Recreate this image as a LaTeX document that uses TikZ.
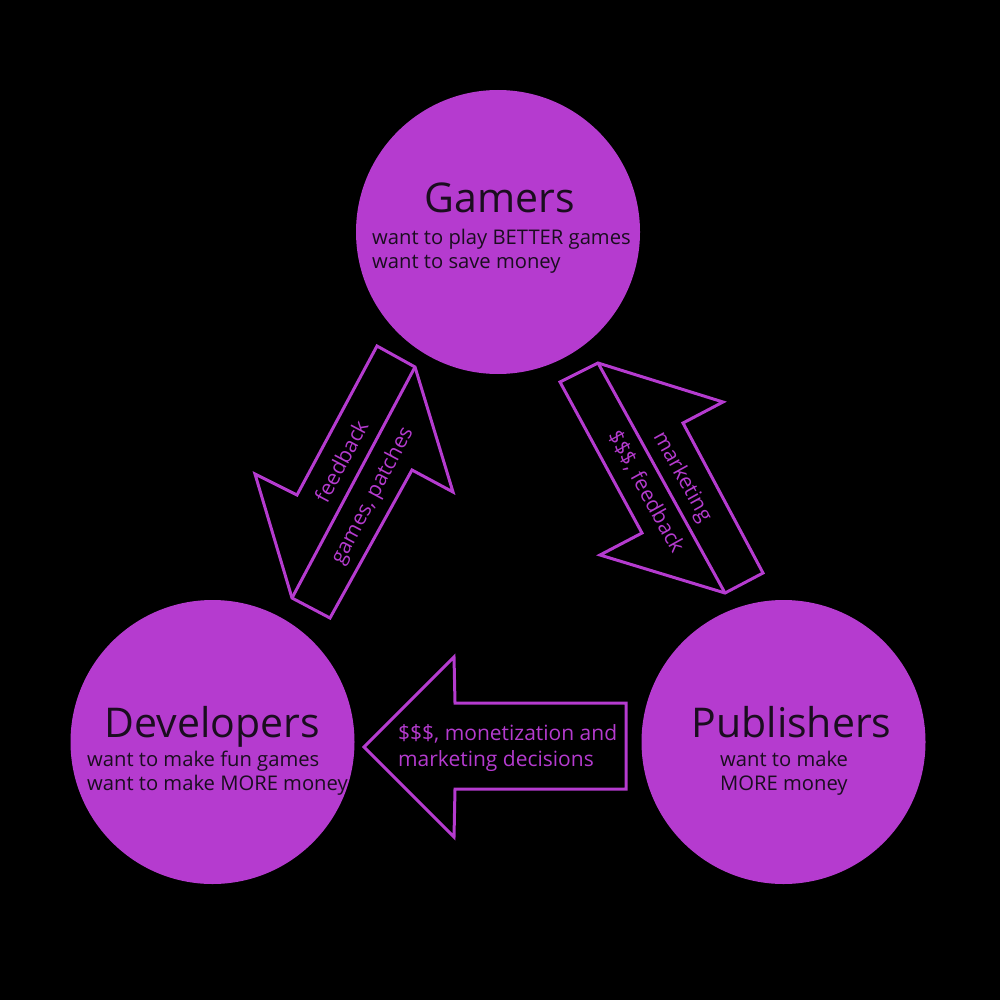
\documentclass[tikz,border=0pt]{standalone}
\usepackage{fontspec}
\setmainfont{Open Sans}
\definecolor{purp}{HTML}{B53BCF}
\definecolor{ink}{HTML}{1A0D1F}
\begin{document}
\begin{tikzpicture}[x=1pt,y=-1pt,
  circ/.style={circle, fill=purp, minimum size=284pt, inner sep=0pt},
  arrowshape/.style={draw=purp, line width=3pt, line join=miter},
  title/.style={text=ink, font=\fontsize{41}{44}\selectfont, anchor=base, inner sep=0pt},
  desc/.style={text=ink, font=\fontsize{20.2}{24}\selectfont, anchor=base west, inner sep=0pt},
  lbl/.style={text=purp, font=\fontsize{21}{24}\selectfont, inner sep=0pt}]
\fill[black] (0,0) rectangle (1000,1000);
\useasboundingbox (0,0) rectangle (1000,1000);
% circles
\node[circ] (gamers) at (498,232) {};
\node[circ] (devs) at (212.5,742) {};
\node[circ] (pubs) at (783.5,742) {};
% circle texts
\node[title] (gt) at (500,213) {Gamers};
\node[desc] (g1) at (372,244) {want to play BETTER games};
\node[desc] (g2) at (372,268) {want to save money};
\node[title] (dt) at (212.5,737) {Developers};
\node[desc] (d1) at (87,766) {want to make fun games};
\node[desc] (d2) at (87,790) {want to make MORE money};
\node[title] (pt) at (791.5,737) {Publishers};
\node[desc] (p1) at (720,766) {want to make};
\node[desc] (p2) at (720,790) {MORE money};
% left double arrow (Gamers <-> Developers)
\draw[arrowshape] (377,346) -- (415,367) -- (453,492) -- (412,470) -- (330,618)
  -- (292,598) -- (255,474) -- (297,495) -- cycle;
\draw[arrowshape] (292,598) -- (415,367);
\node[lbl, rotate=62] (fb1) at (341,461) {feedback};
\node[lbl, rotate=62] (gp) at (373,496) {games, patches};
% right double arrow (Gamers <-> Publishers)
\draw[arrowshape] (560,382) -- (598,363) -- (723,402) -- (683,423) -- (763,573)
  -- (725,593) -- (600,555) -- (642,533) -- cycle;
\draw[arrowshape] (598,363) -- (725,593);
\node[lbl, rotate=-61] (mk) at (682,477) {marketing};
\node[lbl, rotate=-61] (fb2) at (646,492) {\$\$\$, feedback};
% bottom arrow (Publishers -> Developers)
\draw[arrowshape] (364,747) -- (454,657) -- (455,703) -- (626,703) -- (626,789)
  -- (455,789) -- (454,837) -- cycle;
\node[lbl, anchor=base west] (b1) at (398,740) {\$\$\$, monetization and};
\node[lbl, anchor=base west] (b2) at (398,766) {marketing decisions};
\end{tikzpicture}
\end{document}
